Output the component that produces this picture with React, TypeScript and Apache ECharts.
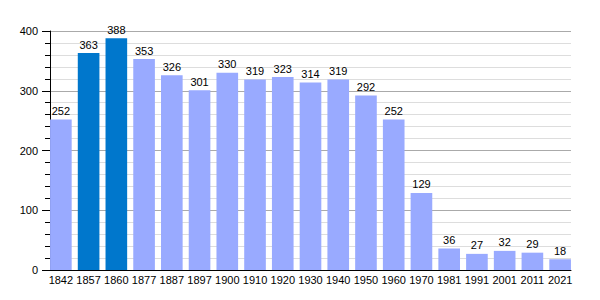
import React, { useEffect, useRef } from "react";
import * as echarts from "echarts";

const years = ["1842", "1857", "1860", "1877", "1887", "1897", "1900", "1910", "1920", "1930", "1940", "1950", "1960", "1970", "1981", "1991", "2001", "2011", "2021"];
const population = [252, 363, 388, 353, 326, 301, 330, 319, 323, 314, 319, 292, 252, 129, 36, 27, 32, 29, 18];
const highlighted = ["1857", "1860"];
const yTicks = [0, 100, 200, 300, 400];

const LIGHT = "#99aaff";
const DARK = "#0077cc";
const FONT = "Liberation Sans, Arial, sans-serif";

export default function App() {
  const ref = useRef<HTMLDivElement>(null);
  useEffect(() => {
    if (!ref.current) return;
    const chart = echarts.init(ref.current, undefined, { renderer: "svg" });
    chart.setOption({
      animation: false,
      grid: [
        { left: 47, right: 26, top: 31, bottom: 30 },
        { left: 50, right: 29, top: 31, bottom: 30 },
      ],
      xAxis: [
        {
          type: "category",
          gridIndex: 0,
          data: years,
          axisLine: { show: false },
          axisTick: { show: false },
          axisLabel: { color: "#000", fontSize: 11, fontFamily: FONT, margin: 4, interval: 0 },
        },
        {
          type: "value",
          gridIndex: 1,
          min: 0,
          max: 1,
          axisLine: { show: true, lineStyle: { color: "#000", width: 1 } },
          axisTick: { show: false },
          axisLabel: { show: false },
          splitLine: { show: false },
        },
      ],
      yAxis: [
        {
          type: "value",
          gridIndex: 0,
          min: yTicks[0],
          max: yTicks[yTicks.length - 1],
          interval: 100,
          show: false,
        },
        {
          type: "value",
          gridIndex: 1,
          min: yTicks[0],
          max: yTicks[yTicks.length - 1],
          interval: 100,
          axisLine: { show: true, lineStyle: { color: "#000", width: 1 } },
          axisTick: { show: true, length: 8, lineStyle: { color: "#000" } },
          minorTick: { show: true, splitNumber: 5, length: 5, lineStyle: { color: "#000" } },
          axisLabel: { color: "#000", fontSize: 11, fontFamily: FONT, margin: 12 },
          splitLine: { show: true, lineStyle: { color: "#aaaaaa", width: 1 } },
          minorSplitLine: { show: true, lineStyle: { color: "#dddddd", width: 1 } },
        },
      ],
      series: [
        {
          type: "bar",
          xAxisIndex: 0,
          yAxisIndex: 0,
          barCategoryGap: "22%",
          data: population.map((v, i) => ({
            value: v,
            itemStyle: { color: highlighted.includes(years[i]) ? DARK : LIGHT },
          })),
          label: {
            show: true,
            position: "top",
            distance: 3,
            color: "#000",
            fontSize: 11,
            fontFamily: FONT,
          },
          z: 3,
        },
      ],
    });
    return () => chart.dispose();
  }, []);
  return <div ref={ref} style={{ width: 600, height: 300, position: "absolute", left: 0, top: 0, background: "#fff" }} />;
}
